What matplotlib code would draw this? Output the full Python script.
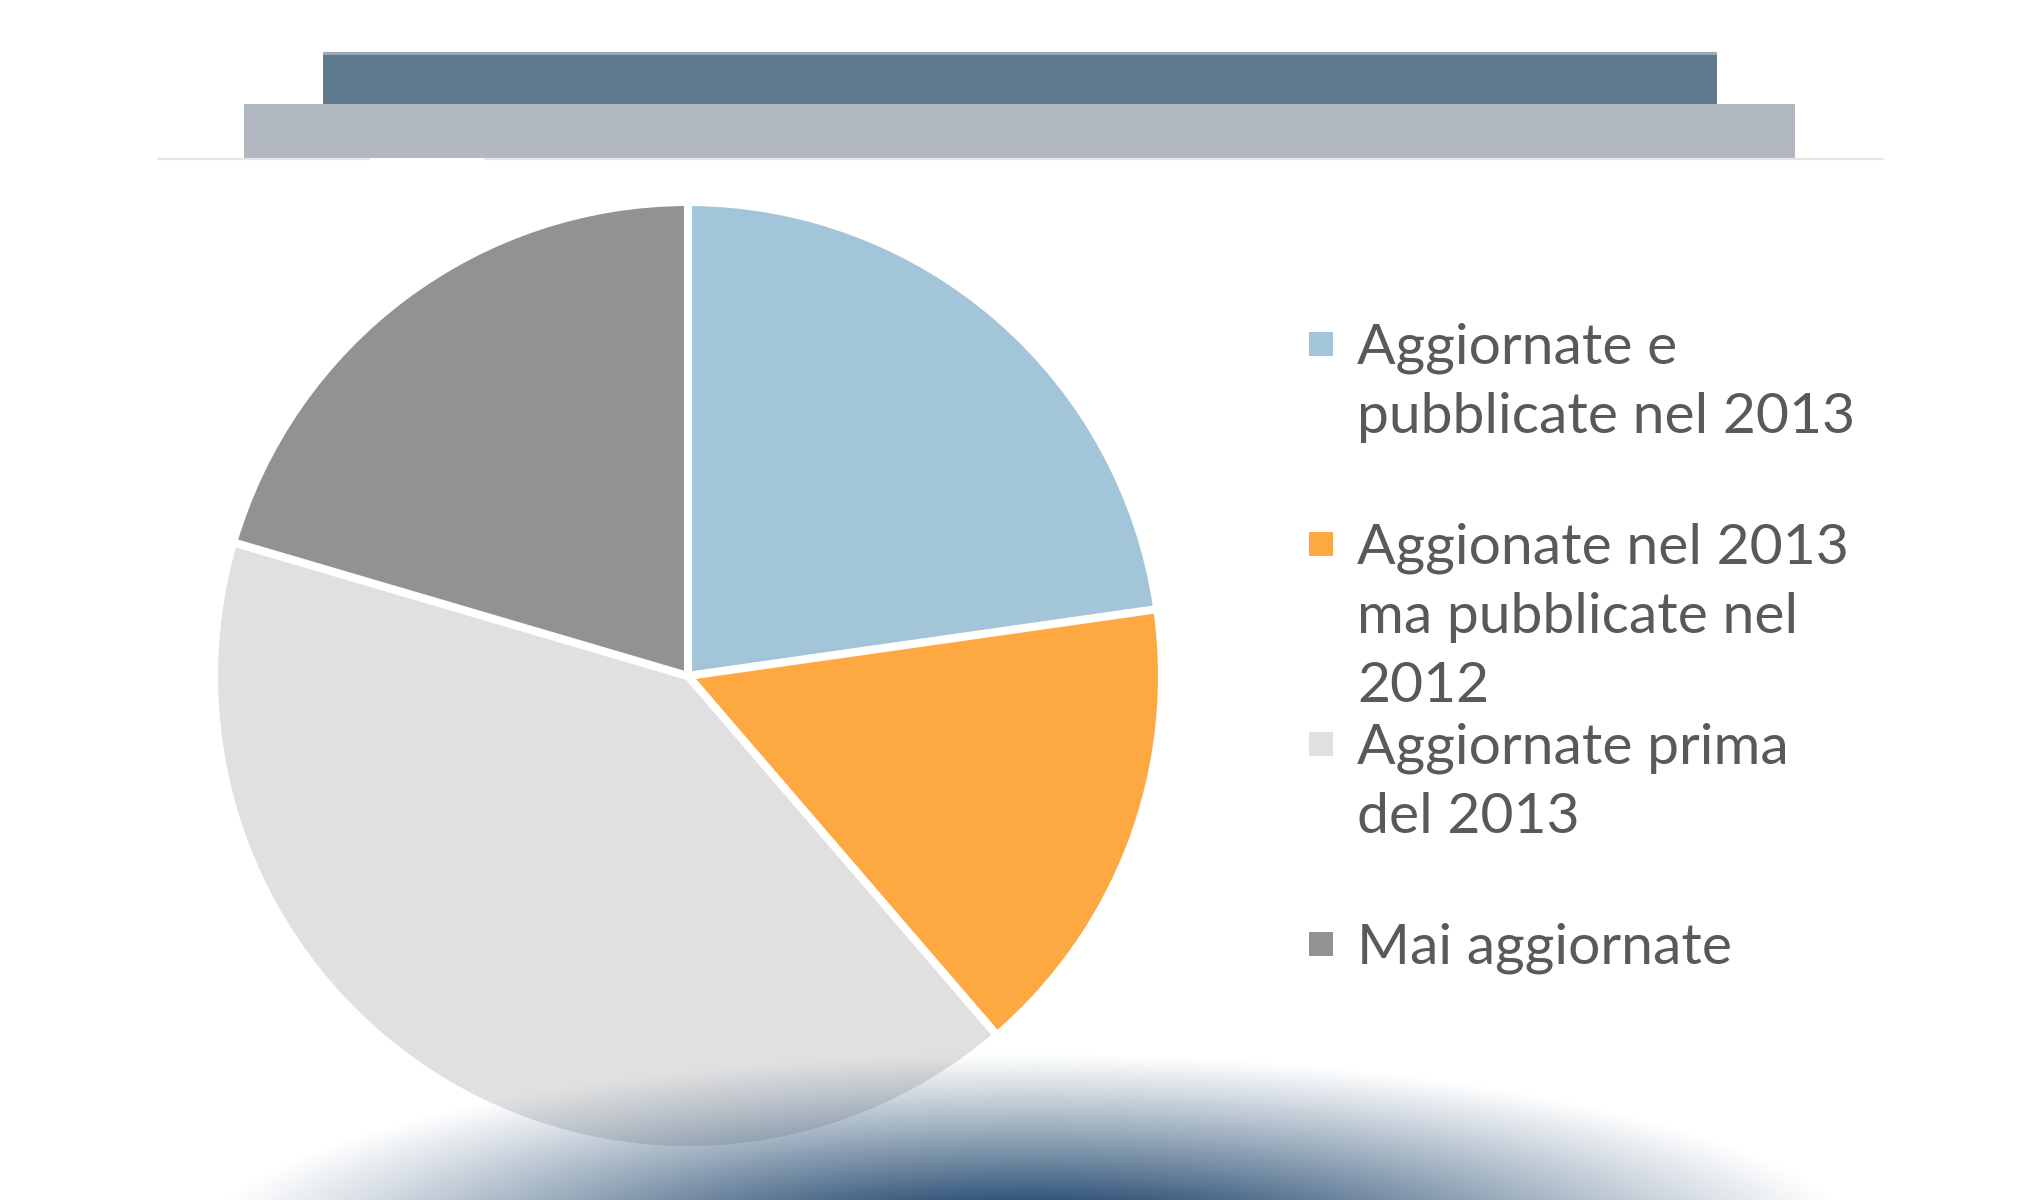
import numpy as np
import matplotlib.pyplot as plt
from matplotlib.patches import Rectangle

# pie data (clockwise from 12 o'clock)
labels = ["Aggiornate e\npubblicate nel 2013",
          "Aggionate nel 2013\nma pubblicate nel\n2012",
          "Aggiornate prima\ndel 2013",
          "Mai aggiornate"]
values = [22.75, 15.95, 40.85, 20.45]
colors = ["#a3c5d9", "#fea842", "#e0e0e0", "#929292"]

W, H = 2040, 1200
fig = plt.figure(figsize=(W / 100, H / 100), dpi=100)
fig.patch.set_facecolor("white")

# background: header bars and thin rule
bg = fig.add_axes([0, 0, 1, 1])
bg.set_xlim(0, W)
bg.set_ylim(H, 0)
bg.axis("off")
bg.add_patch(Rectangle((323, 52), 1717 - 323, 52, facecolor="#5e7a8c", edgecolor="none"))
bg.add_patch(Rectangle((323, 52), 1717 - 323, 2.5, facecolor="#9aabb7", edgecolor="none"))
bg.add_patch(Rectangle((244, 104), 1795 - 244, 54, facecolor="#b1b8bf", edgecolor="none"))
bg.plot([157, 370], [159, 159], color="#e6e6e6", lw=1.5, solid_capstyle="butt")
bg.plot([484, 1884], [159, 159], color="#e6e6e6", lw=1.5, solid_capstyle="butt")

# legend drawn by hand
font = "Lato"
first_base = 364
entry_step = 200
line_step = 69
for i, (lab, col) in enumerate(zip(labels, colors)):
    base = first_base + i * entry_step
    bg.add_patch(Rectangle((1309, base - 32), 24, 24, facecolor=col, edgecolor="none"))
    for j, line in enumerate(lab.split("\n")):
        bg.text(1357, base + j * line_step, line, fontsize=41, family=font,
                color="#595959", va="baseline", ha="left")

# pie
cx, cy, r = 688, 676, 474
pax = fig.add_axes([(cx - r) / W, (H - cy - r) / H, 2 * r / W, 2 * r / H])
pax.pie(values, colors=colors, startangle=90, counterclock=False, radius=1,
        wedgeprops=dict(edgecolor="white", linewidth=5.8))
pax.set_xlim(-1, 1)
pax.set_ylim(-1, 1)
pax.axis("off")

# soft shadow at the bottom (elliptic glow, centre just below the frame)
sax = fig.add_axes([0, 0, 1, 1])
sax.axis("off")
sax.patch.set_alpha(0)
gx, gy = np.meshgrid(np.linspace(222, 1839, 800), np.linspace(900, H, 300))
ss = np.sqrt(((gx - 1030) / 850) ** 2 + ((gy - 1263) / 210) ** 2)
alpha = np.clip((1 - ss) / 0.7, 0, 1) ** 1.1
img = np.zeros(gx.shape + (4,))
img[..., 0] = 52 / 255
img[..., 1] = 87 / 255
img[..., 2] = 122 / 255
img[..., 3] = alpha
sax.imshow(img, extent=(222, 1839, H, 900), interpolation="bilinear", aspect="auto")
sax.set_xlim(0, W)
sax.set_ylim(H, 0)

fig.savefig("out.png", dpi=100)
